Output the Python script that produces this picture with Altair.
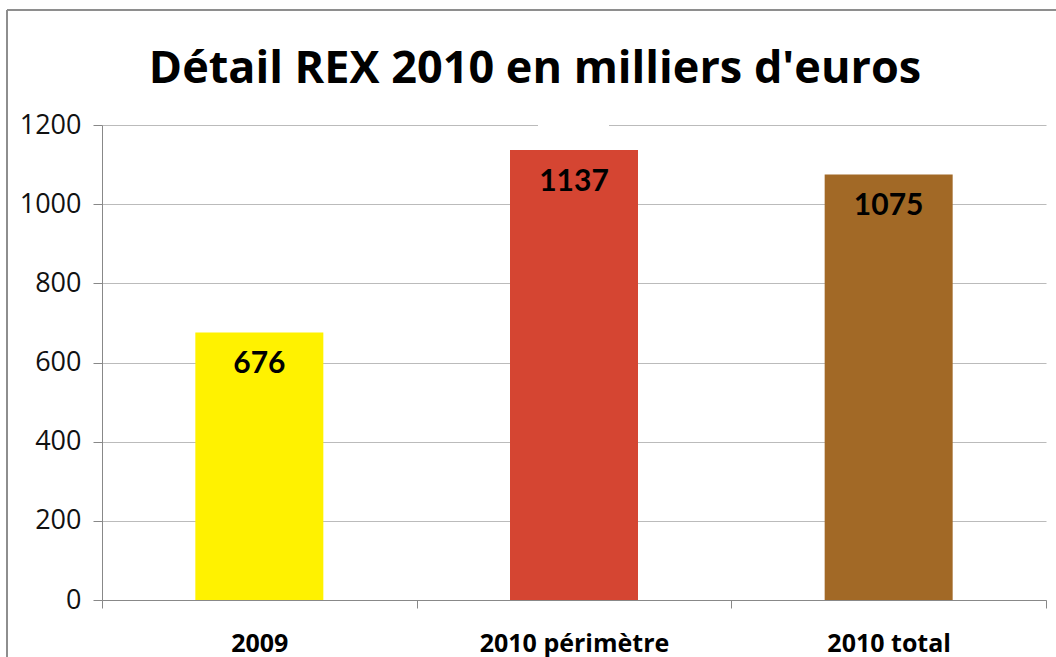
import altair as alt
import pandas as pd

categories = ["2009", "2010 périmètre", "2010 total"]
values = [676, 1137, 1075]
colors = ["#FFF200", "#D54532", "#A26926"]
title_text = ["Détail REX 2010 en milliers d'euros"]

df = pd.DataFrame({"cat": categories, "val": values, "col": colors})
tdf = pd.DataFrame({"t": title_text})

x = alt.X("cat:N", sort=categories, title=None,
          scale=alt.Scale(paddingInner=0, paddingOuter=0),
          axis=alt.Axis(labelAngle=0, labelFont="Open Sans", labelFontWeight="bold", labelFontSize=25,
                        labelColor="#000", labelPadding=23, labelBaseline="top", labelLimit=400,
                        tickBand="extent", tickSize=8, tickColor="#888", domainColor="#888",
                        grid=False))
y = alt.Y("val:Q", title=None,
          scale=alt.Scale(domain=[0, 1200], nice=False),
          axis=alt.Axis(values=[0, 200, 400, 600, 800, 1000, 1200], format="d", labelFont="Open Sans",
                        labelFontSize=27, labelColor="#111", labelPadding=12, tickSize=9,
                        tickColor="#888", domainColor="#888", gridColor="#BBBBBB"))

bars = alt.Chart(df).mark_bar(size=128).encode(
    x=x, y=y, color=alt.Color("col:N", scale=None)
)
labels = alt.Chart(df).mark_text(font="Lato", fontWeight="bold", fontSize=30, color="#000",
                                 baseline="middle", dy=32).encode(
    x=alt.X("cat:N", sort=categories), y="val:Q", text="val:Q"
)

border_top = alt.Chart(df).mark_rule(color="#8C8C8C", strokeWidth=1.5).encode(
    x=alt.value(-95), x2=alt.value(960), y=alt.value(-115))
border_left = alt.Chart(df).mark_rule(color="#8C8C8C", strokeWidth=1.5).encode(
    x=alt.value(-95), y=alt.value(-115), y2=alt.value(540))
gap = alt.Chart(df).mark_rect(color="white").encode(
    x=alt.value(436), x2=alt.value(507), y=alt.value(-3), y2=alt.value(2))
title = alt.Chart(tdf).mark_text(font="Open Sans", fontWeight="bold", fontSize=45, color="#000",
                                 align="center", baseline="middle").encode(
    x=alt.value(433), y=alt.value(-56), text="t:N")

chart = alt.layer(bars, gap, labels, border_top, border_left, title).properties(
    width=944, height=475,
    padding={"left": 102, "top": 125, "right": 10, "bottom": 57},
    autosize=alt.AutoSizeParams(type="none"),
    background="white",
).configure_view(stroke=None)

chart.save("out.html", embed_options={"renderer": "svg", "actions": False})
